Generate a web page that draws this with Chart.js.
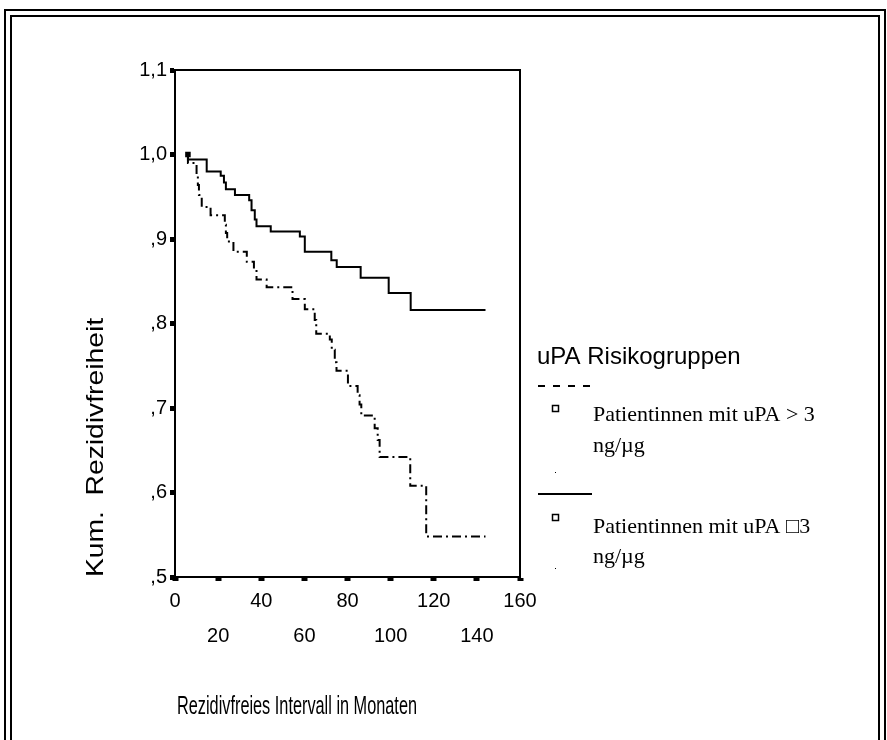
<!DOCTYPE html>
<html>
<head>
<meta charset="utf-8">
<title>Rezidivfreiheit nach uPA Risikogruppen</title>
<script src="https://cdn.jsdelivr.net/npm/chart.js@4.4.0/dist/chart.umd.min.js"></script>
<style>
  html, body { margin: 0; padding: 0; background: #fff; }
  #wrap { width: 887px; height: 740px; position: relative; }
</style>
</head>
<body>
<div id="wrap"><canvas id="kmChart" width="887" height="740"></canvas></div>
<script>
// Kaplan-Meier steps (month, cumulative recurrence-free rate)
const monthsHigh = [6, 6, 10.0, 10.6, 11.1, 12.4, 16.5, 23.1, 23.6, 24.2, 27.1, 33.3, 36.6, 37.8, 42.5, 54.5, 60.2, 64.8, 65.5, 71.8,
                    72.7, 74.1, 74.9, 80.2, 84.7, 85.6, 86.4, 92.6, 94.0, 94.9, 109.1, 116.5, 144];
const survivalHigh = [1.0, 0.990, 0.976, 0.964, 0.952, 0.938, 0.928, 0.917, 0.907, 0.897, 0.885, 0.873, 0.865, 0.852, 0.843, 0.829, 0.817, 0.804, 0.788, 0.781,
                      0.769, 0.754, 0.744, 0.726, 0.715, 0.704, 0.691, 0.676, 0.662, 0.642, 0.608, 0.548, 0.548];

const monthsLow = [6, 6, 14.7, 21.2, 22.7, 23.6, 27.8, 34.4, 35.5, 37.0, 37.8, 44.4, 57.9, 60.2, 72.5, 75.0, 86.1, 99.1, 109.3, 144];
const survivalLow = [1.0, 0.994, 0.980, 0.975, 0.967, 0.959, 0.952, 0.946, 0.934, 0.923, 0.915, 0.909, 0.903, 0.885, 0.875, 0.867, 0.854, 0.836, 0.816, 0.816];

const groupLabels = [['Patientinnen mit uPA > 3', 'ng/µg'], ['Patientinnen mit uPA \u25A13', 'ng/µg']];
const legendTitle = 'uPA Risikogruppen';
const xTitle = 'Rezidivfreies Intervall in Monaten';
const yTitle = 'Kum.  Rezidivfreiheit';

const xTicks = [0, 20, 40, 60, 80, 100, 120, 140, 160];
const yTicks = [0.5, 0.6, 0.7, 0.8, 0.9, 1.0, 1.1];
const yTickLabels = [',5', ',6', ',7', ',8', ',9', '1,0', '1,1'];

const sansFont = '"Liberation Sans", Arial, sans-serif';
const serifFont = '"Liberation Serif", "Times New Roman", serif';

function toPoints(xs, ys) {
    return xs.map((x, i) => ({ x: x, y: ys[i] }));
}

// plot box top/right edges and the double page frame
const framePlugin = {
    id: 'frame',
    afterDraw(chart) {
        const ctx = chart.ctx;
        const a = chart.chartArea;
        ctx.save();
        ctx.strokeStyle = '#000';
        ctx.lineWidth = 2;
        ctx.beginPath();
        ctx.moveTo(a.left, a.top);
        ctx.lineTo(a.right, a.top);
        ctx.lineTo(a.right, a.bottom);
        ctx.stroke();

        ctx.beginPath();
        ctx.moveTo(5, 740); ctx.lineTo(5, 10); ctx.lineTo(885, 10); ctx.lineTo(885, 740);
        ctx.stroke();
        ctx.beginPath();
        ctx.moveTo(11, 740); ctx.lineTo(11, 16); ctx.lineTo(879, 16); ctx.lineTo(879, 740);
        ctx.stroke();
        ctx.restore();
    }
};

// axis titles: the exported figure has narrow x text and a long y text
const axisTitlePlugin = {
    id: 'axisTitles',
    afterDraw(chart) {
        const ctx = chart.ctx;
        const a = chart.chartArea;
        ctx.save();
        ctx.fillStyle = '#000';
        ctx.textAlign = 'left';
        ctx.textBaseline = 'middle';

        ctx.save();
        ctx.font = '25px ' + sansFont;
        ctx.translate(a.left + 2, 707);
        ctx.scale(240 / ctx.measureText(xTitle).width, 1);
        ctx.fillText(xTitle, 0, 0);
        ctx.restore();

        ctx.save();
        ctx.font = '24px ' + sansFont;
        ctx.translate(96, a.bottom);
        ctx.rotate(-Math.PI / 2);
        ctx.scale(259 / ctx.measureText(yTitle).width, 1);
        ctx.fillText(yTitle, 0, 0);
        ctx.restore();
        ctx.restore();
    }
};

// SPSS style legend to the right of the plot
const legendPlugin = {
    id: 'kmLegend',
    afterDraw(chart) {
        const ctx = chart.ctx;
        const rows = [
            { line: 386, box: 409, t1: 415, t2: 446, dot: 472 },
            { line: 494, box: 518, t1: 527, t2: 557, dot: 568 }
        ];
        ctx.save();
        ctx.fillStyle = '#000';
        ctx.strokeStyle = '#000';
        ctx.textBaseline = 'middle';
        ctx.font = '24px ' + sansFont;
        ctx.fillText(legendTitle, 537, 357);

        chart.data.datasets.forEach((ds, i) => {
            const r = rows[i];
            ctx.lineWidth = 2;
            ctx.setLineDash(ds.legendDash);
            ctx.beginPath();
            ctx.moveTo(538, r.line);
            ctx.lineTo(592, r.line);
            ctx.stroke();
            ctx.setLineDash([]);

            ctx.lineWidth = 1.5;
            ctx.strokeRect(552.5, r.box - 3.5, 6, 6);

            ctx.font = '22px ' + serifFont;
            ctx.fillText(groupLabels[i][0], 593, r.t1);
            ctx.fillText(groupLabels[i][1], 593, r.t2);
            ctx.fillRect(555, r.dot, 1, 1);
        });
        ctx.restore();
    }
};

const ctx = document.getElementById('kmChart').getContext('2d');
const chart = new Chart(ctx, {
    type: 'line',
    data: {
        datasets: [
            {
                label: groupLabels[0].join(' '),
                data: toPoints(monthsHigh, survivalHigh),
                borderColor: '#000',
                borderWidth: 2,
                borderDash: [9, 4, 2, 4],
                legendDash: [7, 8],
                stepped: 'before',
                pointRadius: 0,
                fill: false
            },
            {
                label: groupLabels[1].join(' '),
                data: toPoints(monthsLow, survivalLow),
                borderColor: '#000',
                backgroundColor: '#000',
                borderWidth: 2,
                legendDash: [],
                stepped: 'before',
                pointStyle: 'rect',
                pointRadius: c => (c.dataIndex === 0 ? 2.5 : 0),
                fill: false
            }
        ]
    },
    options: {
        responsive: false,
        animation: false,
        devicePixelRatio: 1,
        layout: { padding: { left: 0, top: 70, right: 367, bottom: 0 } },
        plugins: {
            legend: { display: false },
            tooltip: { enabled: false }
        },
        scales: {
            x: {
                type: 'linear',
                min: 0,
                max: 160,
                afterFit(scale) { scale.height = 163; },
                afterBuildTicks(scale) { scale.ticks = xTicks.map(v => ({ value: v })); },
                border: { display: true, color: '#000', width: 2 },
                grid: { drawOnChartArea: false, color: '#000', tickLength: 4, tickWidth: 6 },
                ticks: {
                    color: '#000',
                    font: { family: sansFont, size: 20, lineHeight: 1.75 },
                    padding: 3,
                    maxRotation: 0,
                    autoSkip: false,
                    callback(value) {
                        const i = xTicks.indexOf(value);
                        return i % 2 === 0 ? String(value) : ['', String(value)];
                    }
                },
                title: { display: false }
            },
            y: {
                type: 'linear',
                min: 0.5,
                max: 1.1,
                afterFit(scale) { scale.width = 175; },
                afterBuildTicks(scale) { scale.ticks = yTicks.map(v => ({ value: v })); },
                border: { display: true, color: '#000', width: 2 },
                grid: { drawOnChartArea: false, color: '#000', tickLength: 5, tickWidth: 5 },
                ticks: {
                    color: '#000',
                    font: { family: sansFont, size: 20 },
                    padding: 3,
                    autoSkip: false,
                    callback(value) {
                        const i = yTicks.findIndex(v => Math.abs(v - value) < 1e-6);
                        return yTickLabels[i];
                    }
                },
                title: { display: false }
            }
        }
    },
    plugins: [framePlugin, axisTitlePlugin, legendPlugin]
});
</script>
</body>
</html>
